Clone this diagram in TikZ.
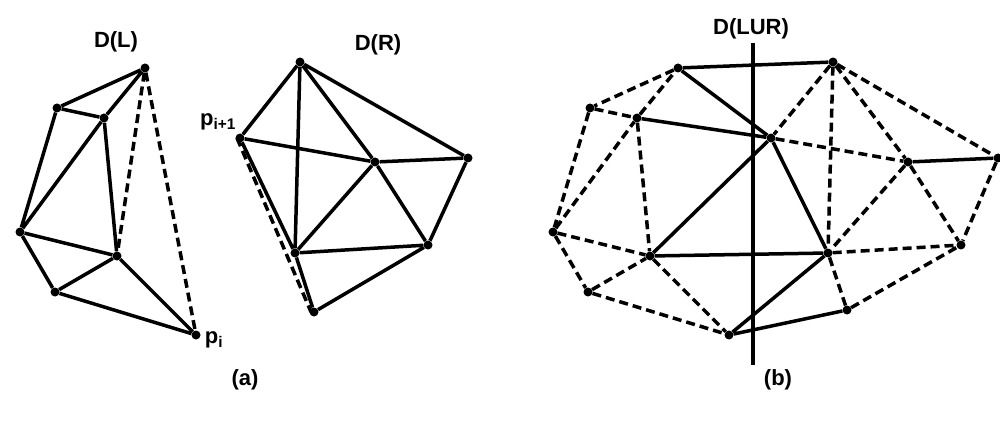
\documentclass[tikz,border=0pt]{standalone}
\usepackage{fontspec}
\setmainfont{Liberation Sans}
\begin{document}
\begin{tikzpicture}[x=1pt,y=-1pt,
  ed/.style={line width=3.5pt},
  dd/.style={line width=3.5pt,dash pattern=on 9pt off 5pt},
  vx/.style={circle,fill=black,inner sep=0pt,minimum size=9pt},
  lbl/.style={font=\bfseries\fontsize{22}{25}\selectfont,inner sep=0pt}]
\useasboundingbox (0,0) rectangle (1000,422);
% ---- (a) D(L)
\node[vx] (A) at (145,68) {};
\node[vx] (B) at (57,108) {};
\node[vx] (C) at (104,118) {};
\node[vx] (D) at (20,232) {};
\node[vx] (E) at (117,256) {};
\node[vx] (F) at (55,292) {};
\node[vx] (G) at (196,335) {};
\draw[ed] (A)--(B) (B)--(C) (C)--(A) (B)--(D) (D)--(C) (C)--(E) (D)--(E)
  (D)--(F) (F)--(E) (E)--(G) (F)--(G);
\draw[dd] (A)--(E) (A)--(G);
% ---- (a) D(R)
\node[vx] (H) at (300,62) {};
\node[vx] (I) at (240,138) {};
\node[vx] (L) at (375,162) {};
\node[vx] (K) at (468,158) {};
\node[vx] (M) at (295,253) {};
\node[vx] (N) at (428,245) {};
\node[vx] (O) at (314,312) {};
\draw[ed] (H)--(I) (H)--(M) (H)--(L) (L)--(N) (H)--(K) (I)--(L) (L)--(K)
  (K)--(N) (L)--(M) (M)--(N) (I)--(M) (M)--(O) (O)--(N);
\draw[dd] ([xshift=-3pt]I.center)--([xshift=-3pt]O.center);
% labels (a)
\node[lbl] (tDL) at (116,42) {D(L)};
\node[lbl] (tDR) at (378,45) {D(R)};
\node[lbl] (tpi) at (214,340) {p\textsubscript{i}};
\node[lbl] (tpi1) at (218,122) {p\textsubscript{i+1}};
\node[lbl] (ta) at (245,380) {(a)};
% ---- (b) D(LUR)
\node[vx] (a1) at (678,68) {};
\node[vx] (a2) at (590,108) {};
\node[vx] (a3) at (637,118) {};
\node[vx] (a4) at (553,232) {};
\node[vx] (a5) at (650,256) {};
\node[vx] (a6) at (588,292) {};
\node[vx] (a7) at (729,335) {};
\node[vx] (b1) at (833,62) {};
\node[vx] (b2) at (771,138) {};
\node[vx] (b3) at (908,162) {};
\node[vx] (b4) at (998,158) {};
\node[vx] (b5) at (828,253) {};
\node[vx] (b6) at (961,245) {};
\node[vx] (b7) at (847,310) {};
\draw[dd] (a1)--(a2) (a2)--(a3) (a3)--(a1) (a2)--(a4) (a4)--(a3) (a3)--(a5)
  (a4)--(a5) (a4)--(a6) (a6)--(a5) (a5)--(a7) (a6)--(a7);
\draw[dd] (b1)--(b2) (b1)--(b5) (b1)--(b3) (b3)--(b6) (b1)--(b4) (b2)--(b3)
  (b4)--(b6) (b3)--(b5) (b5)--(b6) (b5)--(b7) (b7)--(b6);
\draw[ed] (a1)--(b1) (a1)--(b2) (a3)--(b2) (a5)--(b2) (a5)--(b5) (a7)--(b5)
  (a7)--(b7) (b3)--(b4) (b2)--(b5);
\coordinate (vtop) at (753,43);
\coordinate (vbot) at (753,365);
\draw[ed] (vtop)--(vbot);
\node[lbl] (tDLUR) at (751,29) {D(LUR)};
\node[lbl] (tb) at (778,380) {(b)};
\end{tikzpicture}
\end{document}
